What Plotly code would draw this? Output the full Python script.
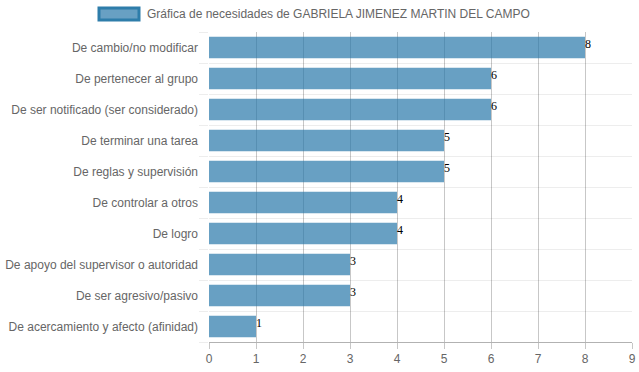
import plotly.graph_objects as go

categories = [
    "De cambio/no modificar",
    "De pertenecer al grupo",
    "De ser notificado (ser considerado)",
    "De terminar una tarea",
    "De reglas y supervisión",
    "De controlar a otros",
    "De logro",
    "De apoyo del supervisor o autoridad",
    "De ser agresivo/pasivo",
    "De acercamiento y afecto (afinidad)",
]
values = [8, 6, 6, 5, 5, 4, 4, 3, 3, 1]
series_name = "Gráfica de necesidades de GABRIELA JIMENEZ MARTIN DEL CAMPO"
x_ticks = list(range(0, 10))

positions = list(range(len(categories)))

fig = go.Figure()
fig.add_trace(go.Bar(
    x=values,
    y=positions,
    orientation="h",
    marker=dict(color="rgba(40,120,170,0.7)", line=dict(width=0)),
    name=series_name,
    showlegend=False,
    hoverinfo="skip",
))
# value labels right at the bar ends
fig.add_trace(go.Scatter(
    x=values,
    y=[p - 0.08 for p in positions],
    mode="text",
    text=[str(v) for v in values],
    textposition="middle right",
    textfont=dict(family="Liberation Serif", size=12, color="#000"),
    cliponaxis=False,
    showlegend=False,
    hoverinfo="skip",
))

W, H = 639, 372
L, R, T, B = 209, 7, 32, 30
pw = W - L - R
ph = H - T - B

fig.update_layout(
    width=W, height=H,
    margin=dict(l=L, r=R, t=T, b=B),
    paper_bgcolor="white",
    plot_bgcolor="white",
    font=dict(family="Liberation Sans, Arial, sans-serif", size=12, color="#666"),
    bargap=0.3,
    hovermode=False,
)
fig.update_xaxes(
    range=[0, 9],
    tickvals=x_ticks,
    ticktext=[str(t) for t in x_ticks],
    showgrid=True,
    gridcolor="rgba(0,0,0,0.22)",
    gridwidth=1,
    zeroline=False,
    showline=True,
    linecolor="rgba(0,0,0,0.3)",
    ticks="outside",
    ticklen=6,
    tickcolor="rgba(0,0,0,0.22)",
    tickfont=dict(size=12, color="#666"),
    automargin=False,
    fixedrange=True,
)
fig.update_yaxes(
    range=[len(categories) - 0.5, -0.5],
    tickvals=positions,
    ticktext=categories,
    showgrid=False,
    zeroline=False,
    showline=False,
    ticks="",
    ticklabelstandoff=10,
    tickfont=dict(size=12, color="#666"),
    minor=dict(tick0=0.5, dtick=1, showgrid=True, gridcolor="rgba(0,0,0,0.07)",
               ticks="outside", ticklen=9, tickcolor="rgba(0,0,0,0.07)"),
    automargin=False,
    fixedrange=True,
)

def px_to_paper_x(px):
    return (px - L) / pw

def py_to_paper_y(py):
    return (H - B - py) / ph

fig.add_shape(
    type="rect", xref="paper", yref="paper",
    x0=px_to_paper_x(99), x1=px_to_paper_x(139),
    y0=py_to_paper_y(20), y1=py_to_paper_y(8),
    fillcolor="rgba(40,120,170,0.7)",
    line=dict(color="rgb(46,125,170)", width=3),
)
fig.add_annotation(
    xref="paper", yref="paper",
    x=px_to_paper_x(145), y=py_to_paper_y(14),
    xanchor="left", yanchor="middle",
    text=series_name, showarrow=False,
    font=dict(size=12, color="#666"),
)

fig.write_html(
    "out.html",
    config={"displayModeBar": False},
    post_script="document.body.style.margin='0px';document.body.style.overflow='hidden';",
)
